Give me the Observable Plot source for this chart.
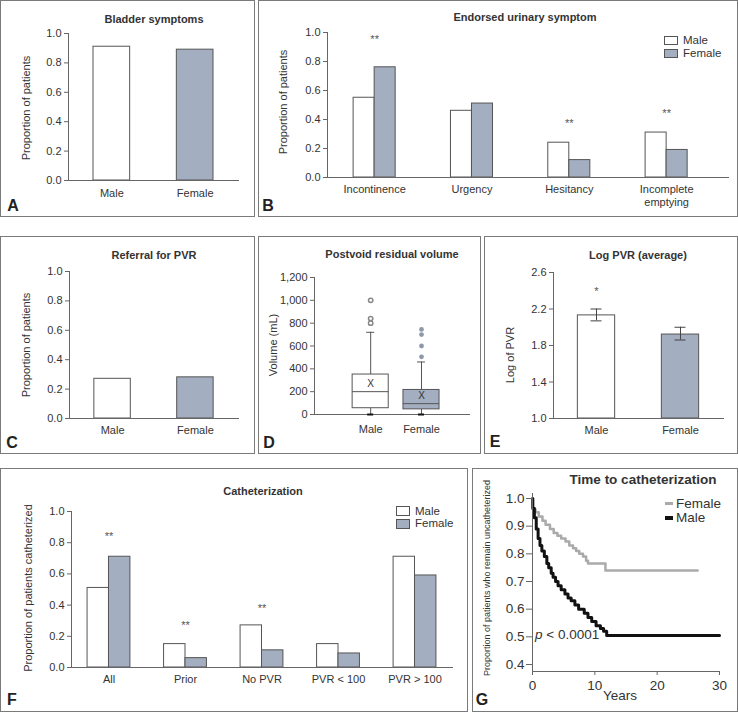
<!DOCTYPE html>
<html><head><meta charset="utf-8">
<script src="https://cdn.jsdelivr.net/npm/d3@7"></script>
<script src="https://cdn.jsdelivr.net/npm/@observablehq/plot@0.6"></script>
<style>
body{margin:0;background:#fff;}
#root{position:relative;width:738px;height:712px;overflow:hidden;font-family:"Liberation Sans",Arial,sans-serif;color:#333;}
.panel{position:absolute;border:1px solid #7a7a7a;box-sizing:border-box;}
.t{position:absolute;white-space:nowrap;line-height:1;}
.box{position:absolute;border:1px solid #555;box-sizing:border-box;}
</style></head><body><div id="root"></div>
<script>
// ---------------- DATA ----------------
const sexes = ["Male", "Female"];
const propTicks = [0, 0.2, 0.4, 0.6, 0.8, 1.0];

// A: Bladder symptoms
const bladderSymptoms = [0.91, 0.89];

// B: Endorsed urinary symptom
const urinaryCategories = ["Incontinence", "Urgency", "Hesitancy", "Incomplete emptying"];
const urinaryMale = [0.55, 0.46, 0.24, 0.31];
const urinaryFemale = [0.76, 0.51, 0.12, 0.19];
const urinarySigCategories = ["Incontinence", "Hesitancy", "Incomplete emptying"];
const urinarySigLevels = [0.97, 0.39, 0.46];

// C: Referral for PVR
const referralPVR = [0.27, 0.28];

// D: Postvoid residual volume (box plot)
const volumeTicks = [0, 200, 400, 600, 800, 1000, 1200];
const pvrWhiskerLow = [0, 0];
const pvrQ1 = [55, 45];
const pvrMedian = [200, 95];
const pvrQ3 = [350, 215];
const pvrWhiskerHigh = [720, 460];
const pvrMean = [270, 160];
const pvrOutliersMale = [1000, 840, 800];
const pvrOutliersFemale = [745, 700, 600, 505];

// E: Log PVR (average)
const logDomain = [1.0, 2.6];
const logTicks = [1.0, 1.4, 1.8, 2.2, 2.6];
const logPVRMean = [2.13, 1.92];
const logPVRLow = [2.07, 1.86];
const logPVRHigh = [2.20, 2.00];
const logPVRSigLevel = [2.42, null];

// F: Catheterization
const cathCategories = ["All", "Prior", "No PVR", "PVR < 100", "PVR > 100"];
const cathMale = [0.51, 0.15, 0.27, 0.15, 0.71];
const cathFemale = [0.71, 0.06, 0.11, 0.09, 0.59];
const cathSigCategories = ["All", "Prior", "No PVR"];
const cathSigLevels = [0.856, 0.287, 0.40];

// G: Time to catheterization (Kaplan-Meier)
const kmXTicks = [0, 10, 20, 30];
const kmYTicks = [0.4, 0.5, 0.6, 0.7, 0.8, 0.9, 1.0];
const kmMaleTime = [0, 0.05, 0.3, 0.6, 0.9, 1.2, 1.5, 1.9, 2.3, 2.6, 3.0, 3.3, 3.7, 4.1, 4.6, 5.2, 5.7, 6.2, 6.8, 7.4, 8.3, 8.9, 9.5, 10.2, 10.9, 11.4, 11.9, 30];
const kmMaleSurv = [1.0, 0.965, 0.93, 0.89, 0.855, 0.83, 0.81, 0.79, 0.765, 0.75, 0.73, 0.715, 0.70, 0.685, 0.67, 0.655, 0.64, 0.63, 0.615, 0.60, 0.585, 0.57, 0.555, 0.54, 0.53, 0.52, 0.505, 0.505];
const kmFemaleTime = [0, 0.05, 0.5, 1.0, 1.6, 2.1, 2.8, 3.4, 4.0, 4.6, 5.3, 5.9, 6.5, 7.0, 7.5, 8.1, 8.6, 8.9, 11.7, 26.5];
const kmFemaleSurv = [1.0, 0.96, 0.95, 0.935, 0.92, 0.905, 0.89, 0.875, 0.865, 0.855, 0.845, 0.83, 0.82, 0.81, 0.80, 0.79, 0.775, 0.765, 0.74, 0.74];

// ---------------- STYLE ----------------
const FONT = '"Liberation Sans", Arial, sans-serif';
const FILL = {Male: "#ffffff", Female: "#a3aec0"};
const EDGE = "#555";
const AX = "#666";
const TXT = "#333";
const root = document.getElementById("root");

function panel(l, t, w, h) {
  const d = document.createElement("div");
  d.className = "panel";
  Object.assign(d.style, {left: l + "px", top: t + "px", width: w + "px", height: h + "px"});
  root.appendChild(d);
}
function txt(s, x, y, o = {}) {
  const d = document.createElement("div");
  d.className = "t";
  d.innerHTML = s;
  const anchor = o.anchor || "middle";
  const tx = anchor === "start" ? "0" : "-50%";
  let tr = `translate(${tx},-50%)`;
  if (o.rotate) tr += " rotate(-90deg)";
  Object.assign(d.style, {
    left: x + "px", top: y + "px", fontSize: (o.size || 11) + "px",
    fontWeight: o.bold ? "bold" : "normal", color: o.color || TXT, transform: tr
  });
  root.appendChild(d);
}
function box(x, y, w, h, fill) {
  const d = document.createElement("div");
  d.className = "box";
  Object.assign(d.style, {left: x + "px", top: y + "px", width: w + "px", height: h + "px", background: fill});
  root.appendChild(d);
}
function line(x, y, w, h, color) {
  const d = document.createElement("div");
  Object.assign(d.style, {position: "absolute", left: x + "px", top: y + "px", width: w + "px", height: h + "px", background: color});
  root.appendChild(d);
}
function mk(opts, left, top, fontSize = 11) {
  const svg = Plot.plot({
    ...opts,
    style: {fontFamily: FONT, fontSize: fontSize + "px", color: TXT, background: "transparent", overflow: "visible"}
  });
  svg.style.position = "absolute";
  svg.style.left = left + "px";
  svg.style.top = top + "px";
  root.appendChild(svg);
}
function bandwidth(domain, r0, r1, pi, po, al = 0.5) {
  return d3.scaleBand(domain, [r0, r1]).paddingInner(pi).paddingOuter(po).align(al).bandwidth();
}

// ---------------- PANEL FRAMES ----------------
panel(0, 0, 255, 217);
panel(258, 0, 480, 217);
panel(0, 236, 255, 218);
panel(258, 236, 223, 218);
panel(484, 236, 254, 218);
panel(0, 468, 468, 244);
panel(472, 468, 266, 244);

// ---------------- A ----------------
const aData = sexes.map((s, i) => ({sex: s, v: bladderSymptoms[i]}));
mk({
  width: 254, height: 216, marginLeft: 68, marginRight: 16, marginTop: 33, marginBottom: 36,
  x: {domain: sexes, paddingInner: 0.56, paddingOuter: 0.3, round: false},
  y: {domain: [0, 1]},
  marks: [
    Plot.barY(aData, {x: "sex", y: "v", fill: d => FILL[d.sex], stroke: EDGE}),
    Plot.frame({anchor: "left", stroke: AX}),
    Plot.frame({anchor: "bottom", stroke: AX}),
    Plot.axisY({ticks: propTicks, tickFormat: ".1f", tickSize: 4, tickPadding: 3, stroke: AX, fill: TXT, label: null}),
    Plot.axisX({tickSize: 0, tickPadding: 9, fill: TXT, label: null})
  ]
}, 0, 0);
txt("Bladder symptoms", 154, 19, {bold: true});
txt("Proportion of patients", 26, 108, {rotate: true});
txt("A", 13, 206, {bold: true, size: 16, color: "#222"});

// ---------------- B ----------------
const bData = urinaryCategories.map((c, i) => ({cat: c, m: urinaryMale[i], f: urinaryFemale[i]}));
const bSig = urinarySigCategories.map((c, i) => ({cat: c, y: urinarySigLevels[i]}));
const bBW = bandwidth(urinaryCategories, 69, 470, 0.568, 0.344, 0.39);
mk({
  width: 479, height: 216, marginLeft: 69, marginRight: 9, marginTop: 32, marginBottom: 39,
  x: {domain: urinaryCategories, paddingInner: 0.568, paddingOuter: 0.344, align: 0.39, round: false},
  y: {domain: [0, 1]},
  marks: [
    Plot.barY(bData, {x: "cat", y: "m", fill: FILL.Male, stroke: EDGE, insetRight: bBW / 2}),
    Plot.barY(bData, {x: "cat", y: "f", fill: FILL.Female, stroke: EDGE, insetLeft: bBW / 2}),
    Plot.text(bSig, {x: "cat", y: "y", text: () => "**", dy: 3, fontSize: 11, fill: "#555"}),
    Plot.frame({anchor: "left", stroke: AX}),
    Plot.frame({anchor: "bottom", stroke: AX}),
    Plot.axisY({ticks: propTicks, tickFormat: ".1f", tickSize: 4, tickPadding: 3, stroke: AX, fill: TXT, label: null}),
    Plot.axisX({tickSize: 0, tickPadding: 7, fill: TXT, label: null, lineHeight: 1.15,
      tickFormat: d => d === "Incomplete emptying" ? "Incomplete\nemptying" : d})
  ]
}, 258, 0);
txt("Endorsed urinary symptom", 525, 17, {bold: true});
txt("Proportion of patients", 283, 102, {rotate: true});
txt("B", 268, 206, {bold: true, size: 16, color: "#222"});
box(664, 36, 14, 9, FILL.Male);
box(664, 49, 14, 9, FILL.Female);
txt("Male", 683, 40.5, {anchor: "start", size: 11.5});
txt("Female", 683, 53.5, {anchor: "start", size: 11.5});

// ---------------- C ----------------
const cData = sexes.map((s, i) => ({sex: s, v: referralPVR[i]}));
mk({
  width: 254, height: 217, marginLeft: 69, marginRight: 16, marginTop: 35, marginBottom: 35,
  x: {domain: sexes, paddingInner: 0.56, paddingOuter: 0.3, round: false},
  y: {domain: [0, 1]},
  marks: [
    Plot.barY(cData, {x: "sex", y: "v", fill: d => FILL[d.sex], stroke: EDGE}),
    Plot.frame({anchor: "left", stroke: AX}),
    Plot.frame({anchor: "bottom", stroke: AX}),
    Plot.axisY({ticks: propTicks, tickFormat: ".1f", tickSize: 4, tickPadding: 3, stroke: AX, fill: TXT, label: null}),
    Plot.axisX({tickSize: 0, tickPadding: 8, fill: TXT, label: null})
  ]
}, 0, 236);
txt("Referral for PVR", 154, 255, {bold: true});
txt("Proportion of patients", 26, 345, {rotate: true});
txt("C", 12, 443, {bold: true, size: 16, color: "#222"});

// ---------------- D ----------------
const dBoxes = sexes.map((s, i) => ({
  sex: s, lo: pvrWhiskerLow[i], q1: pvrQ1[i], med: pvrMedian[i], q3: pvrQ3[i], hi: pvrWhiskerHigh[i], mean: pvrMean[i]
}));
const dOutM = pvrOutliersMale.map(v => ({sex: "Male", v}));
const dOutF = pvrOutliersFemale.map(v => ({sex: "Female", v}));
const dBW = bandwidth(sexes, 56, 211, 0.29, 0.67, 0.56);
mk({
  width: 222, height: 217, marginLeft: 56, marginRight: 11, marginTop: 41, marginBottom: 39,
  x: {domain: sexes, paddingInner: 0.29, paddingOuter: 0.67, align: 0.56, round: false},
  y: {domain: [0, 1200]},
  marks: [
    Plot.ruleX(dBoxes, {x: "sex", y1: "q3", y2: "hi", stroke: "#555"}),
    Plot.ruleX(dBoxes, {x: "sex", y1: "lo", y2: "q1", stroke: "#555"}),
    Plot.barY(dBoxes, {x: "sex", y1: "q1", y2: "q3", fill: d => FILL[d.sex], stroke: EDGE}),
    Plot.tickY(dBoxes, {x: "sex", y: "med", stroke: EDGE}),
    Plot.tickY(dBoxes, {x: "sex", y: "hi", stroke: "#555", insetLeft: dBW / 2 - 4, insetRight: dBW / 2 - 4}),
    Plot.text(dBoxes, {x: "sex", y: "mean", text: () => "X", fontSize: 10, fill: "#333"}),
    Plot.dot(dOutM, {x: "sex", y: "v", r: 2.2, fill: "#fff", stroke: "#888"}),
    Plot.dot(dOutF, {x: "sex", y: "v", r: 2.4, fill: "#8d98ab"}),
    Plot.frame({anchor: "left", stroke: AX}),
    Plot.frame({anchor: "bottom", stroke: AX}),
    Plot.tickY(dBoxes, {x: "sex", y: "lo", stroke: "#111", strokeWidth: 2, insetLeft: dBW / 2 - 3, insetRight: dBW / 2 - 3}),
    Plot.axisY({ticks: volumeTicks, tickFormat: ",d", tickSize: 4, tickPadding: 3, stroke: AX, fill: TXT, label: null}),
    Plot.axisX({tickSize: 0, tickPadding: 11, fill: TXT, label: null})
  ]
}, 258, 236);
txt("Postvoid residual volume", 392, 254, {bold: true});
txt("Volume (mL)", 273, 345, {rotate: true});
txt("D", 269, 443, {bold: true, size: 16, color: "#222"});

// ---------------- E ----------------
const eData = sexes.map((s, i) => ({sex: s, v: logPVRMean[i], lo: logPVRLow[i], hi: logPVRHigh[i], sig: logPVRSigLevel[i]}));
const eBW = bandwidth(sexes, 69, 239, 0.556, 0.29);
mk({
  width: 253, height: 217, marginLeft: 69, marginRight: 14, marginTop: 36, marginBottom: 35,
  x: {domain: sexes, paddingInner: 0.556, paddingOuter: 0.29, round: false},
  y: {domain: logDomain},
  marks: [
    Plot.barY(eData, {x: "sex", y1: logDomain[0], y2: "v", fill: d => FILL[d.sex], stroke: EDGE}),
    Plot.ruleX(eData, {x: "sex", y1: "lo", y2: "hi", stroke: "#444"}),
    Plot.tickY(eData, {x: "sex", y: "lo", stroke: "#444", insetLeft: (eBW - 11) / 2, insetRight: (eBW - 11) / 2}),
    Plot.tickY(eData, {x: "sex", y: "hi", stroke: "#444", insetLeft: (eBW - 11) / 2, insetRight: (eBW - 11) / 2}),
    Plot.text(eData.filter(d => d.sig != null), {x: "sex", y: "sig", text: () => "*", dy: 3, fontSize: 11, fill: "#555"}),
    Plot.frame({anchor: "left", stroke: AX}),
    Plot.frame({anchor: "bottom", stroke: AX}),
    Plot.axisY({ticks: logTicks, tickFormat: ".1f", tickSize: 4, tickPadding: 3, stroke: AX, fill: TXT, label: null}),
    Plot.axisX({tickSize: 0, tickPadding: 8, fill: TXT, label: null})
  ]
}, 484, 236);
txt("Log PVR (average)", 638, 255, {bold: true});
txt("Log of PVR", 510, 355, {rotate: true});
txt("E", 495, 442, {bold: true, size: 16, color: "#222"});

// ---------------- F ----------------
const fData = cathCategories.map((c, i) => ({cat: c, m: cathMale[i], f: cathFemale[i]}));
const fSig = cathSigCategories.map((c, i) => ({cat: c, y: cathSigLevels[i]}));
const fBW = bandwidth(cathCategories, 71, 452, 0.44, 0.21);
mk({
  width: 467, height: 243, marginLeft: 71, marginRight: 15, marginTop: 43, marginBottom: 44,
  x: {domain: cathCategories, paddingInner: 0.44, paddingOuter: 0.21, round: false},
  y: {domain: [0, 1]},
  marks: [
    Plot.barY(fData, {x: "cat", y: "m", fill: FILL.Male, stroke: EDGE, insetRight: fBW / 2}),
    Plot.barY(fData, {x: "cat", y: "f", fill: FILL.Female, stroke: EDGE, insetLeft: fBW / 2}),
    Plot.text(fSig, {x: "cat", y: "y", text: () => "**", dy: 3, fontSize: 11, fill: "#555"}),
    Plot.frame({anchor: "left", stroke: AX}),
    Plot.frame({anchor: "bottom", stroke: AX}),
    Plot.axisY({ticks: propTicks, tickFormat: ".1f", tickSize: 4, tickPadding: 3, stroke: AX, fill: TXT, label: null}),
    Plot.axisX({tickSize: 0, tickPadding: 8, fill: TXT, label: null})
  ]
}, 0, 468);
txt("Catheterization", 263, 491, {bold: true});
txt("Proportion of patients catheterized", 28, 588, {rotate: true});
txt("F", 12, 700, {bold: true, size: 16, color: "#222"});
box(396, 506, 14, 10, FILL.Male);
box(396, 519, 14, 10, FILL.Female);
txt("Male", 415, 511.5, {anchor: "start", size: 11.5});
txt("Female", 415, 524, {anchor: "start", size: 11.5});

// ---------------- G ----------------
const kmMale = kmMaleTime.map((t, i) => ({t, s: kmMaleSurv[i]}));
const kmFemale = kmFemaleTime.map((t, i) => ({t, s: kmFemaleSurv[i]}));
mk({
  width: 265, height: 243, marginLeft: 60, marginRight: 18, marginTop: 25, marginBottom: 40,
  x: {domain: [0, 30]},
  y: {domain: [0.4, 1.0], insetTop: 5, insetBottom: 7},
  marks: [
    Plot.line(kmFemale, {x: "t", y: "s", curve: "step-after", stroke: "#aaaaaa", strokeWidth: 2.5}),
    Plot.line(kmMale, {x: "t", y: "s", curve: "step-after", stroke: "#111", strokeWidth: 3}),
    Plot.frame({anchor: "left", stroke: AX}),
    Plot.frame({anchor: "bottom", stroke: AX}),
    Plot.axisY({ticks: kmYTicks, tickFormat: ".1f", tickSize: 6, tickPadding: 2, stroke: AX, fill: TXT, label: null}),
    Plot.axisX({ticks: kmXTicks, tickSize: 4, tickPadding: 5, stroke: AX, fill: TXT, label: null})
  ]
}, 472, 468, 13.5);
txt("Time to catheterization", 643, 480, {bold: true, size: 13.5});
txt("Proportion of patients who remain uncatheterized", 487, 578, {rotate: true, size: 9});
txt("Years", 620, 696, {size: 13.5});
txt("<i>p</i> &lt; 0.0001", 535, 635, {anchor: "start", size: 13.5});
line(665, 502, 8, 3, "#aaaaaa");
line(665, 516, 8, 3.5, "#111");
txt("Female", 676, 504, {anchor: "start", size: 13.5});
txt("Male", 676, 518, {anchor: "start", size: 13.5});
txt("G", 482, 700, {bold: true, size: 16, color: "#222"});
</script></body></html>
